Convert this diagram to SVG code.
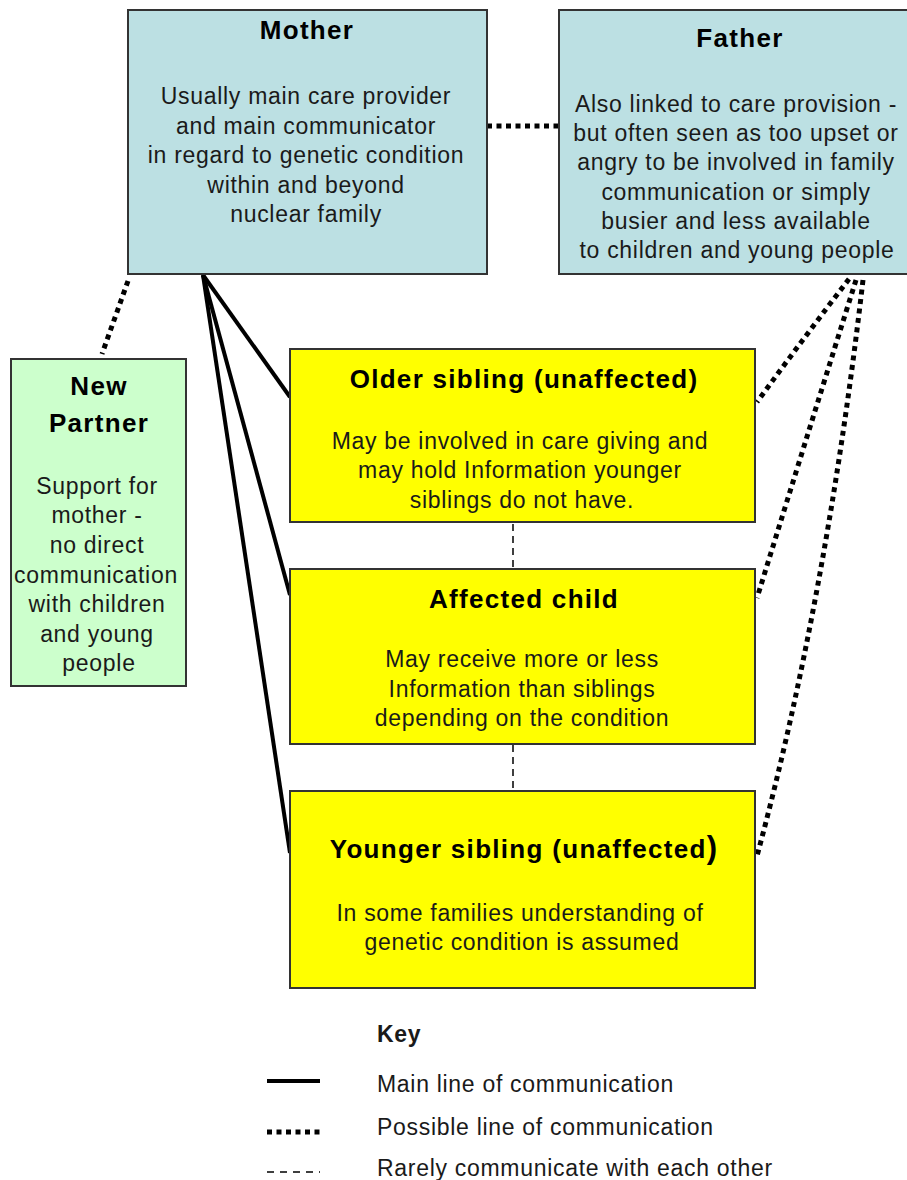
<svg xmlns="http://www.w3.org/2000/svg" width="907" height="1180" viewBox="0 0 907 1180">
<style>
.box{stroke:#333;stroke-width:2}
.blue{fill:#BCE0E3}
.green{fill:#CCFFCC}
.yellow{fill:#FFFF00}
.t{font-family:"Liberation Sans",Arial,sans-serif;font-weight:bold;font-size:26px;letter-spacing:1.3px;fill:#000;text-anchor:middle}
.b{font-family:"Liberation Sans",Arial,sans-serif;font-size:23px;letter-spacing:0.7px;fill:#1a1a1a;text-anchor:middle}
.k{font-family:"Liberation Sans",Arial,sans-serif;font-size:23px;letter-spacing:0.7px;fill:#1a1a1a}
.solid{stroke:#000;stroke-width:4;fill:none}
.dot{stroke:#000;stroke-width:5;stroke-dasharray:5 4.5;fill:none}
.dash{stroke:#000;stroke-width:1.5;stroke-dasharray:7 5;fill:none}
</style>
<rect width="907" height="1180" fill="#fff"/>
<g id="connectors">
<line class="solid" x1="203" y1="275" x2="290" y2="397"/>
<line class="solid" x1="203" y1="275" x2="290" y2="595"/>
<line class="solid" x1="203" y1="275" x2="290" y2="853"/>
<line class="dot" x1="487" y1="126" x2="559" y2="126"/>
<line class="dot" x1="128" y1="281" x2="102" y2="354"/>
<path class="dot" d="M849,279 Q806,335 757,402"/>
<path class="dot" d="M856,280 Q812,420 757,598"/>
<path class="dot" d="M863,280 Q826,600 757,856"/>
<line class="dash" x1="513" y1="524" x2="513" y2="569"/>
<line class="dash" x1="513" y1="745" x2="513" y2="791"/>
</g>
<g id="mother">
<rect class="box blue" x="128" y="10" width="359" height="264"/>
<text class="t" x="307" y="39">Mother</text>
<text class="b" x="306" y="104">Usually main care provider</text>
<text class="b" x="306" y="133.5">and main communicator</text>
<text class="b" x="306" y="163">in regard to genetic condition</text>
<text class="b" x="306" y="192.5">within and beyond</text>
<text class="b" x="306" y="222">nuclear family</text>
</g>
<g id="father">
<rect class="box blue" x="559" y="10" width="350" height="264"/>
<text class="t" x="740" y="47">Father</text>
<text class="b" x="736" y="112">Also linked to care provision -</text>
<text class="b" x="736" y="141">but often seen as too upset or</text>
<text class="b" x="736" y="170">angry to be involved in family</text>
<text class="b" x="736" y="200">communication or simply</text>
<text class="b" x="736" y="229">busier and less available</text>
<text class="b" x="737" y="258">to children and young people</text>
</g>
<g id="new-partner">
<rect class="box green" x="11" y="359" width="175" height="327"/>
<text class="t" x="99" y="395">New</text>
<text class="t" x="99" y="432">Partner</text>
<text class="b" x="97" y="494">Support for</text>
<text class="b" x="97" y="523">mother -</text>
<text class="b" x="97" y="553">no direct</text>
<text class="b" x="96" y="583">communication</text>
<text class="b" x="97" y="612">with children</text>
<text class="b" x="97" y="642">and young</text>
<text class="b" x="99" y="671">people</text>
</g>
<g id="older-sibling">
<rect class="box yellow" x="290" y="349" width="465" height="173"/>
<text class="t" x="524" y="388">Older sibling (unaffected)</text>
<text class="b" x="520" y="449">May be involved in care giving and</text>
<text class="b" x="520" y="478">may hold Information younger</text>
<text class="b" x="522" y="508">siblings do not have.</text>
</g>
<g id="affected-child">
<rect class="box yellow" x="290" y="569" width="465" height="175"/>
<text class="t" x="524" y="608">Affected child</text>
<text class="b" x="522" y="667">May receive more or less</text>
<text class="b" x="522" y="697">Information than siblings</text>
<text class="b" x="522" y="726">depending on the condition</text>
</g>
<g id="younger-sibling">
<rect class="box yellow" x="290" y="791" width="465" height="197"/>
<text class="t" x="524" y="858">Younger sibling (unaffected<tspan font-size="31">)</tspan></text>
<text class="b" x="520" y="921">In some families understanding of</text>
<text class="b" x="522" y="950">genetic condition is assumed</text>
</g>
<g id="key">
<text class="k" x="377" y="1042" font-weight="bold" font-size="21" letter-spacing="0.5">Key</text>
<line class="solid" x1="267" y1="1081" x2="320" y2="1081"/>
<line class="dot" x1="267" y1="1132" x2="320" y2="1132" stroke-width="4.5"/>
<line x1="267" y1="1172" x2="320" y2="1172" stroke="#000" stroke-width="1.5" stroke-dasharray="7 6"/>
<text class="k" x="377" y="1092">Main line of communication</text>
<text class="k" x="377" y="1135">Possible line of communication</text>
<text class="k" x="377" y="1176">Rarely communicate with each other</text>
</g>
</svg>
